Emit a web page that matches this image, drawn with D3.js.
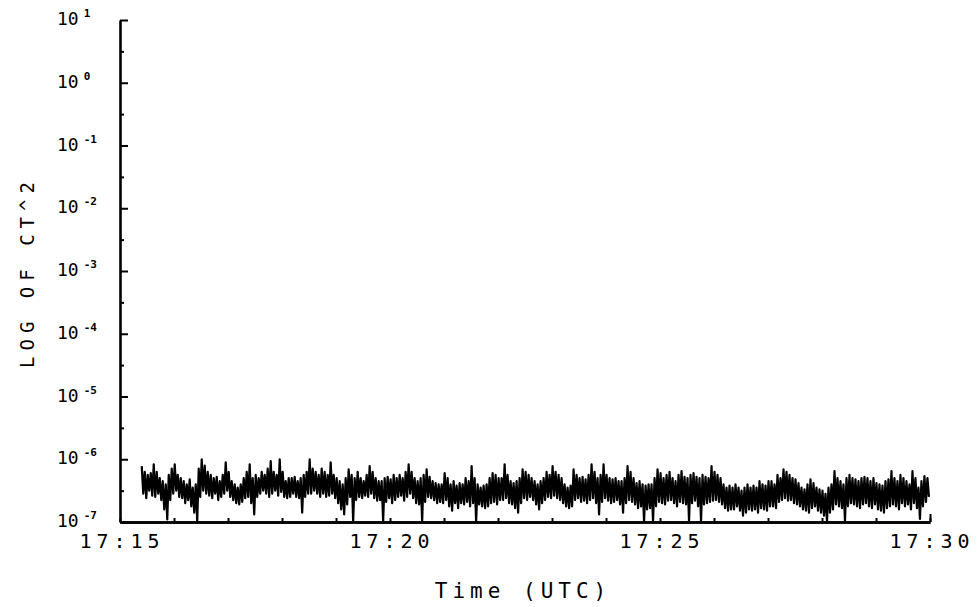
<!DOCTYPE html>
<html>
<head>
<meta charset="utf-8">
<script src="https://cdn.jsdelivr.net/npm/d3@7"></script>
<style>
  body { margin: 0; background: #fff; }
  text { font-family: "DejaVu Sans Mono", "Liberation Mono", monospace; fill: #000; }
</style>
</head>
<body>
<div id="chart"></div>
<script>
// decade exponents on the y axis
const decades = [-7, -6, -5, -4, -3, -2, -1, 0, 1]
const xLabels = ["17:15", "17:20", "17:25", "17:30"]

// first and last sample bin of the record
const sampleStart = new Date(2000, 0, 1, 17, 15, 25)
const sampleEnd = new Date(2000, 0, 1, 17, 29, 58)

// log10 of CT^2 per sample bin: top and bottom of the trace, read left to right
const logHigh = [
  -6.11, -6.20, -6.25, -6.22, -6.08, -6.20, -6.30, -6.35, -6.40, -6.25,
  -6.15, -6.08, -6.25, -6.30, -6.35, -6.40, -6.32, -6.45, -6.40, -6.15,
  -6.00, -6.10, -6.20, -6.25, -6.30, -6.28, -6.35, -6.25, -6.05, -6.20,
  -6.35, -6.40, -6.45, -6.40, -6.30, -6.20, -6.08, -6.30, -6.25, -6.30,
  -6.20, -6.25, -6.15, -6.03, -6.20, -6.25, -6.00, -6.20, -6.35, -6.30,
  -6.30, -6.28, -6.35, -6.30, -6.25, -6.20, -6.00, -6.15, -6.20, -6.25,
  -6.15, -6.20, -6.25, -6.05, -6.25, -6.30, -6.35, -6.40, -6.30, -6.16,
  -6.25, -6.30, -6.20, -6.30, -6.35, -6.25, -6.11, -6.20, -6.30, -6.35,
  -6.35, -6.30, -6.28, -6.32, -6.25, -6.30, -6.25, -6.30, -6.20, -6.08,
  -6.20, -6.30, -6.35, -6.30, -6.25, -6.16, -6.28, -6.35, -6.38, -6.40,
  -6.40, -6.22, -6.30, -6.40, -6.35, -6.42, -6.38, -6.40, -6.30, -6.35,
  -6.11, -6.30, -6.40, -6.45, -6.42, -6.40, -6.30, -6.22, -6.25, -6.30,
  -6.30, -6.08, -6.25, -6.35, -6.38, -6.35, -6.30, -6.16, -6.20, -6.25,
  -6.30, -6.35, -6.40, -6.35, -6.30, -6.20, -6.25, -6.11, -6.20, -6.25,
  -6.30, -6.40, -6.45, -6.42, -6.16, -6.25, -6.30, -6.28, -6.32, -6.25,
  -6.08, -6.20, -6.30, -6.25, -6.08, -6.25, -6.30, -6.32, -6.30, -6.35,
  -6.35, -6.30, -6.11, -6.20, -6.30, -6.38, -6.35, -6.40, -6.42, -6.40,
  -6.40, -6.30, -6.16, -6.22, -6.30, -6.25, -6.20, -6.30, -6.35, -6.25,
  -6.19, -6.28, -6.30, -6.25, -6.22, -6.28, -6.30, -6.25, -6.28, -6.30,
  -6.11, -6.20, -6.25, -6.30, -6.40, -6.45, -6.42, -6.45, -6.40, -6.45,
  -6.50, -6.45, -6.40, -6.45, -6.42, -6.45, -6.35, -6.40, -6.42, -6.35,
  -6.35, -6.40, -6.25, -6.30, -6.16, -6.20, -6.25, -6.30, -6.32, -6.38,
  -6.45, -6.48, -6.40, -6.32, -6.38, -6.45, -6.48, -6.50, -6.55, -6.45,
  -6.40, -6.19, -6.30, -6.35, -6.40, -6.30, -6.25, -6.30, -6.32, -6.35,
  -6.30, -6.28, -6.30, -6.35, -6.30, -6.38, -6.40, -6.42, -6.35, -6.32,
  -6.19, -6.30, -6.35, -6.25, -6.30, -6.35, -6.40, -6.19, -6.30, -6.45,
  -6.35, -6.27, -6.30
]
const logLow = [
  -6.55, -6.62, -6.50, -6.58, -6.60, -6.55, -6.65, -6.80, -6.96, -6.65,
  -6.55, -6.50, -6.60, -6.62, -6.70, -6.65, -6.75, -6.85, -6.99, -6.60,
  -6.50, -6.55, -6.58, -6.62, -6.55, -6.65, -6.60, -6.55, -6.50, -6.60,
  -6.65, -6.70, -6.72, -6.68, -6.62, -6.60, -6.70, -6.88, -6.60, -6.55,
  -6.50, -6.55, -6.60, -6.55, -6.50, -6.58, -6.52, -6.60, -6.62, -6.60,
  -6.55, -6.60, -6.62, -6.85, -6.60, -6.55, -6.55, -6.50, -6.55, -6.60,
  -6.55, -6.60, -6.58, -6.55, -6.62, -6.70, -6.80, -6.88, -6.72, -6.60,
  -6.99, -6.65, -6.60, -6.62, -6.58, -6.60, -6.55, -6.62, -6.66, -6.65,
  -6.99, -6.68, -6.62, -6.70, -6.65, -6.60, -6.58, -6.66, -6.60, -6.55,
  -6.62, -6.70, -6.72, -6.99, -6.68, -6.60, -6.62, -6.65, -6.70, -6.68,
  -6.70, -6.65, -6.75, -6.82, -6.70, -6.78, -6.70, -6.72, -6.68, -6.75,
  -6.70, -6.99, -6.72, -6.75, -6.78, -6.75, -6.70, -6.68, -6.72, -6.65,
  -6.65, -6.62, -6.70, -6.72, -6.78, -6.85, -6.70, -6.62, -6.65, -6.60,
  -6.65, -6.72, -6.80, -6.70, -6.65, -6.60, -6.62, -6.58, -6.62, -6.65,
  -6.70, -6.75, -6.78, -6.75, -6.65, -6.62, -6.68, -6.66, -6.70, -6.65,
  -6.62, -6.70, -6.88, -6.68, -6.62, -6.66, -6.70, -6.68, -6.65, -6.72,
  -6.85, -6.70, -6.65, -6.68, -6.72, -6.78, -6.75, -6.99, -6.80, -6.78,
  -6.99, -6.75, -6.68, -6.70, -6.72, -6.66, -6.65, -6.70, -6.75, -6.68,
  -6.70, -6.72, -6.99, -6.70, -6.66, -6.75, -6.99, -6.72, -6.70, -6.68,
  -6.66, -6.65, -6.68, -6.72, -6.78, -6.82, -6.80, -6.80, -6.75, -6.82,
  -6.90, -6.85, -6.80, -6.82, -6.80, -6.85, -6.78, -6.80, -6.82, -6.75,
  -6.75, -6.78, -6.68, -6.65, -6.62, -6.66, -6.65, -6.70, -6.72, -6.75,
  -6.80, -6.82, -6.85, -6.78, -6.75, -6.82, -6.85, -6.90, -6.99, -6.85,
  -6.80, -6.72, -6.75, -6.78, -6.99, -6.75, -6.70, -6.72, -6.75, -6.78,
  -6.72, -6.70, -6.75, -6.78, -6.72, -6.80, -6.82, -6.85, -6.78, -6.75,
  -6.72, -6.75, -6.80, -6.70, -6.75, -6.72, -6.80, -6.70, -6.78, -6.95,
  -6.75, -6.68, -6.60
]

const sWidth = 978, sHeight = 607
const margin = { top: 20, right: 48, bottom: 85, left: 120 }
const width = sWidth - margin.left - margin.right
const height = sHeight - margin.top - margin.bottom

const parseHM = d3.timeParse("%H:%M")
const toDay = s => { const t = parseHM(s); return new Date(2000, 0, 1, t.getHours(), t.getMinutes()) }
const xTicks = xLabels.map(toDay)

const x = d3.scaleTime()
  .domain([xTicks[0], xTicks[xTicks.length - 1]])
  .range([0, width])
const y = d3.scaleLog()
  .domain([Math.pow(10, decades[0]), Math.pow(10, decades[decades.length - 1])])
  .range([height, 0])

const svg = d3.select("#chart").append("svg")
  .attr("width", sWidth)
  .attr("height", sHeight)
  .append("g")
  .attr("transform", "translate(" + margin.left + "," + margin.top + ")")

// trace: each bin goes up to its high and down to its low
const step = (sampleEnd - sampleStart) / (logHigh.length - 1)
const pts = []
logHigh.forEach((h, i) => {
  const t = +sampleStart + i * step
  pts.push([t - step / 4, h])
  pts.push([t + step / 4, logLow[i]])
})
const line = d3.line()
  .x(d => x(new Date(d[0])))
  .y(d => y(Math.pow(10, d[1])))
svg.append("path")
  .datum(pts)
  .attr("d", line)
  .attr("fill", "none")
  .attr("stroke", "#000")
  .attr("stroke-width", 2.2)
  .attr("stroke-linejoin", "round")

// y axis, ticks pointing inward
const majorY = decades.map(e => Math.pow(10, e))
const minorY = decades.slice(0, -1).map(e => Math.pow(10, e + 0.5))
svg.append("g")
  .call(d3.axisLeft(y).tickValues(majorY).tickSizeInner(-8).tickSizeOuter(0).tickFormat(""))
svg.append("g")
  .call(d3.axisLeft(y).tickValues(minorY).tickSizeInner(-4).tickSizeOuter(0).tickFormat(""))
  .select(".domain").remove()

// x axis, ticks pointing up
svg.append("g")
  .attr("transform", "translate(0," + height + ")")
  .call(d3.axisBottom(x).ticks(d3.timeMinute.every(1)).tickSizeInner(-4).tickSizeOuter(0).tickFormat(""))
svg.append("g")
  .attr("transform", "translate(0," + height + ")")
  .call(d3.axisBottom(x).tickValues([xTicks[xTicks.length - 1]]).tickSizeInner(-8).tickSizeOuter(0).tickFormat(""))

svg.selectAll(".domain").attr("stroke-width", 2.6)
svg.selectAll(".tick line").attr("stroke-width", 2)

// y tick labels: 10 with a raised exponent
const yLab = svg.append("g")
  .selectAll("text")
  .data(decades)
  .join("text")
  .attr("x", -63)
  .attr("y", d => y(Math.pow(10, d)) + 5)
  .style("font-size", "18px")
  .text("10")
yLab.append("tspan")
  .attr("dx", 5)
  .attr("dy", -8)
  .style("font-size", "11px")
  .style("font-weight", "bold")
  .text(d => d < 0 ? "-" + (-d) : d)

// x tick labels
svg.append("g")
  .selectAll("text")
  .data(xTicks)
  .join("text")
  .attr("x", d => x(d) + 2)
  .attr("y", height + 26)
  .attr("text-anchor", "middle")
  .style("font-size", "20px")
  .style("letter-spacing", "5px")
  .text(d3.timeFormat("%H:%M"))

// axis titles
svg.append("text")
  .attr("x", 403)
  .attr("y", height + 76)
  .attr("text-anchor", "middle")
  .style("font-size", "21px")
  .style("letter-spacing", "5px")
  .text("Time (UTC)")

svg.append("text")
  .attr("transform", "translate(" + (34 - margin.left) + "," + (272 - margin.top) + ") rotate(-90)")
  .attr("text-anchor", "middle")
  .style("font-size", "19px")
  .style("letter-spacing", "6px")
  .text("LOG OF CT^2")
</script>
</body>
</html>
